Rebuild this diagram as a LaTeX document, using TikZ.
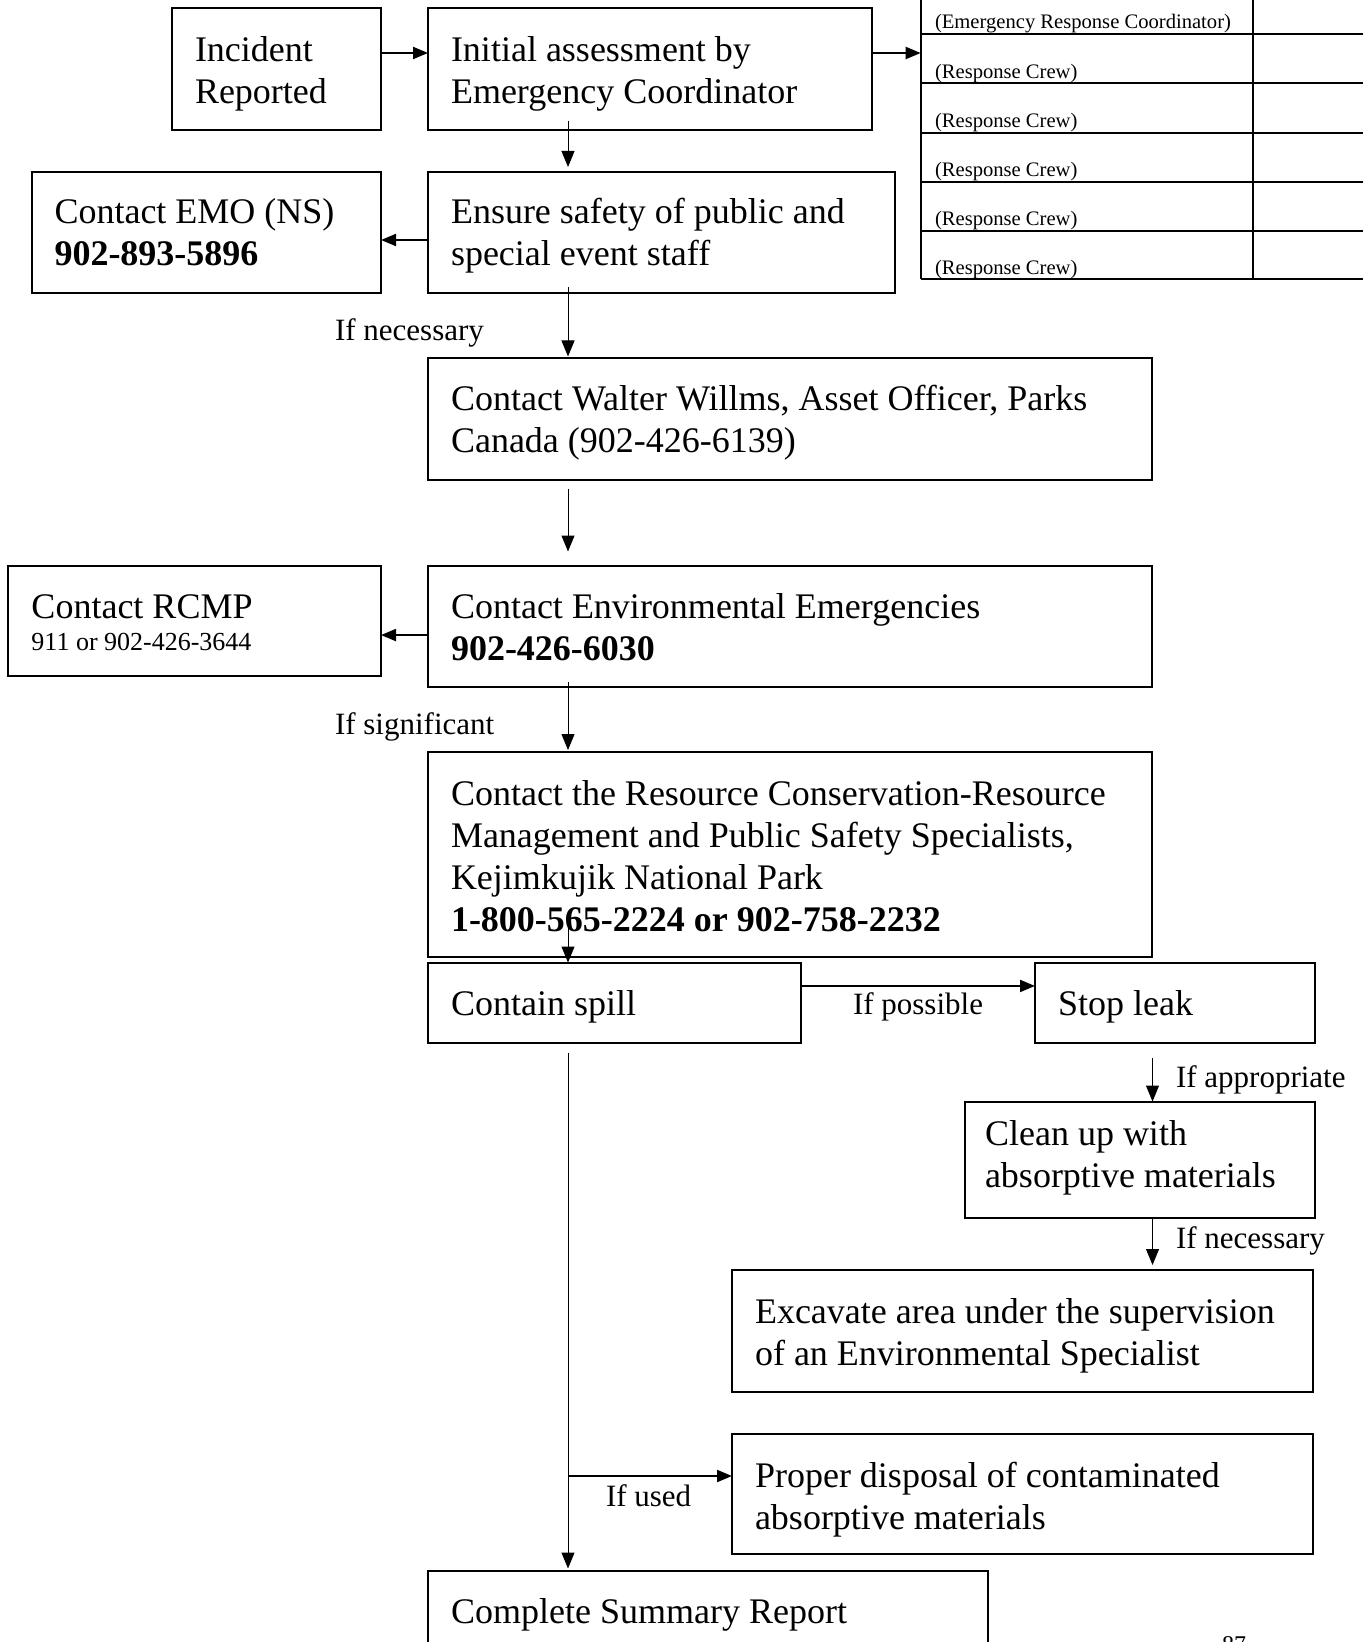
\documentclass[tikz,border=0pt]{standalone}
\usepackage{fontspec}
\setmainfont{Liberation Serif}
\usetikzlibrary{arrows.meta,calc}
\newcommand{\mfnt}{\fontsize{18}{21}\selectfont}
\newcommand{\lfnt}{\fontsize{15.5}{18}\selectfont}
\newcommand{\tfnt}{\fontsize{10.3}{12}\selectfont}
\newcommand{\sfnt}{\fontsize{13}{15}\selectfont}
\newcommand{\pfnt}{\fontsize{12}{14}\selectfont}
\begin{document}
\begin{tikzpicture}[x=0.5pt,y=-0.5pt,
  box/.style={draw, line width=1pt, inner sep=0pt, outer sep=0pt, anchor=north west},
  txt/.style={inner sep=0pt, outer sep=0pt, anchor=base west, align=left, font=\mfnt},
  lbl/.style={inner sep=0pt, outer sep=0pt, anchor=base west, font=\lfnt},
  ttx/.style={inner sep=0pt, outer sep=0pt, anchor=base west, font=\tfnt},
  arrv/.style={line width=0.5pt, -{Triangle[length=8pt,width=6.5pt]}},
  arrh/.style={line width=1pt, -{Triangle[length=7.5pt,width=6pt]}},
  tline/.style={line width=1pt}]
\useasboundingbox (0,0) rectangle (1362,1642);

% boxes
\node[box, minimum width=104.5pt, minimum height=61pt] (inc) at (172,8) {};
\node[box, minimum width=222pt, minimum height=61pt] (init) at (428,8) {};
\node[box, minimum width=174.75pt, minimum height=60.5pt] (emo) at (31.5,172) {};
\node[box, minimum width=233.5pt, minimum height=60.5pt] (ens) at (428,172) {};
\node[box, minimum width=361.75pt, minimum height=60.75pt] (walt) at (428,358.5) {};
\node[box, minimum width=186.75pt, minimum height=55.25pt] (rcmp) at (7.5,565.5) {};
\node[box, minimum width=361.75pt, minimum height=60.75pt] (env) at (428,565.5) {};
\node[box, minimum width=361.75pt, minimum height=102.5pt] (res) at (428,752) {};
\node[box, minimum width=186.5pt, minimum height=40.25pt] (cont) at (428,962.5) {};
\node[box, minimum width=140pt, minimum height=40.25pt] (stop) at (1035,962.5) {};
\node[box, minimum width=175pt, minimum height=58.25pt] (clean) at (965,1101.5) {};
\node[box, minimum width=290.5pt, minimum height=60.75pt] (exc) at (732,1270) {};
\node[box, minimum width=290.5pt, minimum height=60pt] (disp) at (732,1434) {};
\node[box, minimum width=279.75pt, minimum height=80pt] (comp) at (428,1570.5) {};

% texts (base anchor = last line baseline)
\node[txt] (tinc) at (195,103.5) {Incident\\Reported};
\node[txt] (tinit) at (451,103.5) {Initial assessment by\\Emergency Coordinator};
\node[txt] (temo) at (54.5,266) {Contact EMO (NS)\\\textbf{902-893-5896}};
\node[txt] (tens) at (451,266) {Ensure safety of public and\\special event staff};
\node[txt] (twalt) at (451,452.5) {Contact Walter Willms, Asset Officer, Parks\\Canada (902-426-6139)};
\node[txt] (trcmp) at (31.5,618.5) {Contact RCMP};
\node[txt, font=\sfnt] (trcmp2) at (31.5,650) {911 or 902-426-3644};
\node[txt] (tenv) at (451,660.5) {Contact Environmental Emergencies\\\textbf{902-426-6030}};
\node[txt] (tres) at (451,931) {Contact the Resource Conservation-Resource\\Management and Public Safety Specialists,\\Kejimkujik National Park\\\textbf{1-800-565-2224 or 902-758-2232}};
\node[txt] (tcont) at (451,1015) {Contain spill};
\node[txt] (tstop) at (1058,1015) {Stop leak};
\node[txt] (tclean) at (985,1187) {Clean up with\\absorptive materials};
\node[txt] (texc) at (755,1365) {Excavate area under the supervision\\of an Environmental Specialist};
\node[txt] (tdisp) at (755,1529) {Proper disposal of contaminated\\absorptive materials};
\node[txt] (tcomp) at (451,1623) {Complete Summary Report};

% table
\draw[tline] (920.7,-20) -- (920.7,279.3);
\draw[tline] (1253.3,-20) -- (1253.3,279.3);
\foreach \yy in {34.3,83.3,132.7,181.7,230.7,279.3}
  \draw[tline] (920.7,\yy) -- (1380,\yy);
\node[ttx] (tt0) at (935,28.3) {(Emergency Response Coordinator)};
\node[ttx] (tt1) at (935,78.3) {(Response Crew)};
\node[ttx] (tt2) at (935,127.3) {(Response Crew)};
\node[ttx] (tt3) at (935,176.3) {(Response Crew)};
\node[ttx] (tt4) at (935,225.3) {(Response Crew)};
\node[ttx] (tt5) at (935,274.3) {(Response Crew)};
\coordinate (tbl) at (920.7,53);

% labels
\node[lbl] (l1) at (335,341) {If necessary};
\node[lbl] (l2) at (335,734) {If significant};
\node[lbl] (l3) at (853,1014) {If possible};
\node[lbl] (l4) at (1176,1087) {If appropriate};
\node[lbl] (l5) at (1176,1248) {If necessary};
\node[lbl] (l6) at (606,1506) {If used};

% page number
\node[inner sep=0pt, anchor=base, font=\pfnt] (pg) at (1234,1652) {87};

% connectors
\coordinate (cx) at (568,0);
\coordinate (cr) at (1152.5,0);
\coordinate (br) at (568,1476);
\draw[arrh] ([yshift=8pt]inc.east) -- ([yshift=8pt]init.west);
\draw[arrh] (init.east |- tbl) -- (tbl);
\draw[arrv, shorten <=-4.5pt, shorten >=2.5pt] (init.south -| cx) -- (ens.north -| cx);
\draw[arrh] ([yshift=-3.75pt]ens.west) -- ([yshift=-3.75pt]emo.east);
\draw[arrv, shorten <=-3pt, shorten >=1pt] (ens.south -| cx) -- (walt.north -| cx);
\draw[arrv, shorten <=4.5pt, shorten >=7pt] (walt.south -| cx) -- (env.north -| cx);
\draw[arrh] ([yshift=-4.4pt]env.west) -- ([yshift=-4.4pt]env.west -| rcmp.east);
\draw[arrv, shorten <=-2.7pt, shorten >=1pt] (env.south -| cx) -- (res.north -| cx);
\draw[arrv] ($(res.south -| cx)+(0,-36)$) -- (cont.north -| cx);
\draw[arrh] ([yshift=8.4pt]cont.east) -- ([yshift=8.4pt]stop.west);
\draw[arrv, shorten <=7.5pt] (stop.south -| cr) -- (clean.north -| cr);
\draw[arrv, shorten >=2.5pt] (clean.south -| cr) -- (exc.north -| cr);
\draw[arrv, shorten <=5pt, shorten >=1pt] (cont.south -| cx) -- (comp.north -| cx);
\draw[arrh] (br) -- (br -| disp.west);
\end{tikzpicture}
\end{document}
